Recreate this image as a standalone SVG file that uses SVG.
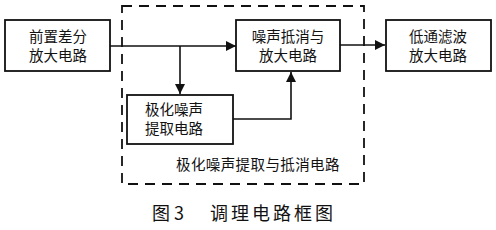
<svg xmlns="http://www.w3.org/2000/svg" width="496" height="230" viewBox="0 0 496 230">
<style>
.box{fill:#fff;stroke:#111;stroke-width:1.8}
.t{font-family:"Noto Sans CJK SC","Liberation Serif",serif;font-size:14.5px;fill:#111}
.c{text-anchor:middle}
.ln{fill:none;stroke:#111;stroke-width:1.6}
.cap{font-family:"Noto Sans CJK SC","Liberation Serif",serif;font-size:18px;fill:#111}
</style>
<defs>
<marker id="ah" viewBox="0 0 10 10" refX="10" refY="5" markerWidth="10" markerHeight="10" markerUnits="userSpaceOnUse" orient="auto">
<path d="M0,0 L10,5 L0,10 z" fill="#111"/>
</marker>
</defs>
<rect width="496" height="230" fill="#fff"/>
<g id="group-dashed">
<rect x="122" y="6" width="242" height="178" fill="none" stroke="#111" stroke-width="1.8" stroke-dasharray="10 7"/>
<text class="t" x="176" y="170" font-size="15" letter-spacing="0.4">极化噪声提取与抵消电路</text>
</g>
<g id="connectors">
<path class="ln" d="M110,46 H236" marker-end="url(#ah)"/>
<path class="ln" d="M180,46 V94" marker-end="url(#ah)"/>
<path class="ln" d="M233,119 H291 V72" marker-end="url(#ah)"/>
<path class="ln" d="M340,45 H385" marker-end="url(#ah)"/>
</g>
<g id="n1">
<rect class="box" x="5" y="20" width="105" height="51"/>
<text class="t c" x="58" y="42">前置差分</text>
<text class="t c" x="58" y="61">放大电路</text>
</g>
<g id="n2">
<rect class="box" x="236" y="20" width="104" height="51"/>
<text class="t c" x="288" y="42">噪声抵消与</text>
<text class="t c" x="288" y="61">放大电路</text>
</g>
<g id="n3">
<rect class="box" x="386" y="20" width="105" height="51"/>
<text class="t c" x="438" y="42">低通滤波</text>
<text class="t c" x="438" y="61">放大电路</text>
</g>
<g id="n4">
<rect class="box" x="127" y="95" width="106" height="49"/>
<text class="t" x="145" y="115">极化噪声</text>
<text class="t" x="145" y="134">提取电路</text>
</g>
<g id="caption">
<text class="cap" x="152" y="220">图 3</text>
<text class="cap" x="210" y="220" letter-spacing="3">调理电路框图</text>
</g>
</svg>
